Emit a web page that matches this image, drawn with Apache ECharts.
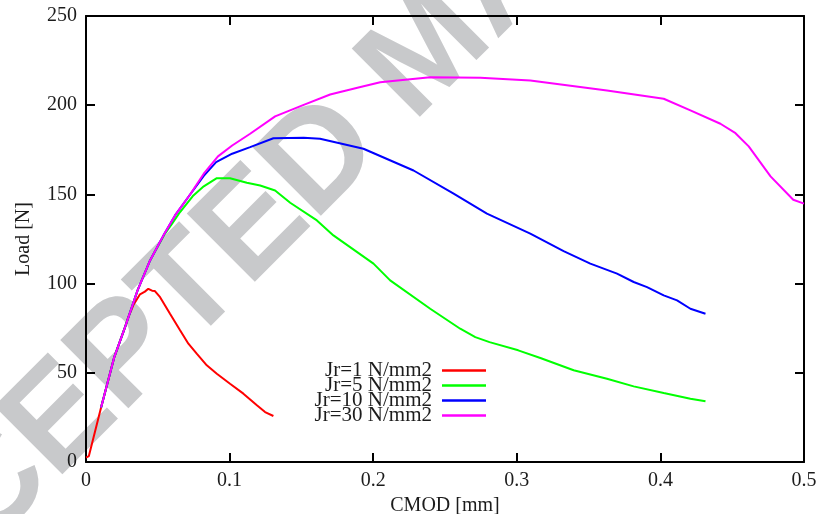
<!DOCTYPE html>
<html>
<head>
<meta charset="utf-8">
<script src="https://cdn.jsdelivr.net/npm/echarts@6/dist/echarts.min.js"></script>
<style>
  html, body { margin: 0; padding: 0; background: #fff; }
  #chart { width: 821px; height: 514px; }
</style>
</head>
<body>
<div id="chart"></div>
<script>
// Load vs. crack mouth opening displacement for four Jr values: [CMOD (mm), Load (N)]
const seriesNames = ['Jr=1 N/mm2', 'Jr=5 N/mm2', 'Jr=10 N/mm2', 'Jr=30 N/mm2'];
const seriesColors = ['#ff0000', '#00ff00', '#0000ff', '#ff00ff'];

const jr1 = [
  [0, 2.5], [0.002, 3.3], [0.0105, 30.5], [0.0197, 58.8], [0.0272, 75.6], [0.0295, 81.2],
  [0.033, 88.0], [0.0376, 94.0], [0.041, 95.5], [0.0434, 97.1], [0.046, 96.0], [0.048, 95.8],
  [0.0516, 92.4], [0.0585, 83.1], [0.0655, 73.8], [0.0713, 66.3], [0.0771, 60.7],
  [0.0841, 54.2], [0.0911, 49.5], [0.1003, 43.9], [0.1096, 38.3], [0.119, 31.8],
  [0.1247, 28.0], [0.1305, 25.8]
];
const jr5 = [
  [0.0105, 30.5], [0.0197, 58.8], [0.0272, 75.6], [0.0359, 96.2], [0.0446, 113.0],
  [0.0546, 127.5], [0.0595, 133.0], [0.0655, 140.1], [0.0748, 149.4], [0.082, 154.5],
  [0.0911, 159.1], [0.1003, 159.1], [0.112, 156.5], [0.1213, 155.0], [0.1317, 152.2],
  [0.1422, 145.3], [0.1608, 135.4], [0.1723, 127.0], [0.2002, 111.2], [0.2118, 101.8],
  [0.2397, 85.9], [0.2606, 74.7], [0.2711, 70.0], [0.281, 67.2], [0.301, 62.6],
  [0.3164, 58.3], [0.3396, 51.4], [0.3628, 46.7], [0.3814, 42.4], [0.4023, 38.7],
  [0.4209, 35.5], [0.4314, 34.0]
];
const jr10 = [
  [0.0105, 30.5], [0.0197, 58.8], [0.0272, 75.6], [0.0359, 96.2], [0.0446, 113.0],
  [0.0546, 128.0], [0.062, 138.2], [0.072, 149.4], [0.082, 160.4], [0.0906, 168.1],
  [0.1018, 172.8], [0.1143, 176.5], [0.1305, 181.5], [0.1516, 181.8], [0.163, 181.2],
  [0.1932, 175.6], [0.2281, 163.4], [0.256, 150.4], [0.2792, 139.2], [0.3094, 128.0],
  [0.3326, 118.2], [0.3512, 111.2], [0.3698, 105.6], [0.3814, 100.9], [0.3907, 98.0],
  [0.4023, 93.4], [0.4116, 90.6], [0.4209, 85.9], [0.4314, 83.1]
];
const jr30 = [
  [0.0105, 30.5], [0.0197, 58.8], [0.0272, 75.6], [0.0359, 96.2], [0.0446, 113.0],
  [0.0546, 128.0], [0.062, 138.2], [0.072, 149.4], [0.082, 161.6], [0.0919, 171.3],
  [0.1018, 177.4], [0.1143, 184.0], [0.1317, 193.7], [0.1516, 200.2], [0.17, 206.0],
  [0.189, 209.8], [0.2049, 212.9], [0.2397, 215.6], [0.2746, 215.4], [0.3094, 213.9],
  [0.3628, 208.3], [0.4023, 203.6], [0.4209, 197.1], [0.4418, 189.6], [0.4523, 184.3],
  [0.4615, 176.9], [0.4767, 160.1], [0.4925, 147.0], [0.5, 144.8]
];
const seriesData = [jr1, jr5, jr10, jr30];

const xTicks = { min: 0, max: 0.5, interval: 0.1 };
const yTicks = { min: 0, max: 250, interval: 50 };

const FONT = '"Liberation Serif", "Times New Roman", serif';
const INK = '#1c1c1c';

const chart = echarts.init(document.getElementById('chart'), null, { renderer: 'canvas' });

function frameAxis(base, showLabel) {
  return Object.assign({
    type: 'value',
    axisLine: { show: true, onZero: false, lineStyle: { color: '#000', width: 2 } },
    axisTick: { show: true, inside: true, length: 9, lineStyle: { color: '#000', width: 2 } },
    axisLabel: { show: showLabel, color: INK, fontFamily: FONT, fontSize: 20, margin: 9 },
    splitLine: { show: false }
  }, base);
}

// one legend block per series so the sample lines line up on the right
const legends = seriesNames.map((name, i) => ({
  data: [{ name: name, icon: 'rect' }],
  orient: 'vertical',
  align: 'right',
  right: 335,
  top: 360 + i * 15,
  padding: 0,
  itemWidth: 44,
  itemHeight: 2.5,
  selectedMode: false,
  textStyle: { color: INK, fontFamily: FONT, fontSize: 21, padding: [0, 5, 0, 0] }
}));

chart.setOption({
  backgroundColor: '#ffffff',
  animation: false,
  grid: { left: 86, right: 17, top: 16, bottom: 52, containLabel: false, outerBoundsMode: 'none' },
  xAxis: [
    frameAxis(Object.assign({
      position: 'bottom',
      name: 'CMOD [mm]',
      nameLocation: 'middle',
      nameGap: 22,
      nameTextStyle: { color: INK, fontFamily: FONT, fontSize: 20 }
    }, xTicks), true),
    frameAxis(Object.assign({ position: 'top' }, xTicks), false)
  ],
  yAxis: [
    frameAxis(Object.assign({
      position: 'left',
      name: 'Load [N]',
      nameLocation: 'middle',
      nameRotate: 90,
      nameGap: 52,
      nameTextStyle: { color: INK, fontFamily: FONT, fontSize: 20 }
    }, yTicks), true),
    frameAxis(Object.assign({ position: 'right' }, yTicks), false)
  ],
  legend: legends,
  graphic: [{
    type: 'text',
    z: -10,
    x: 430,
    y: 52,
    rotation: Math.PI / 4,
    silent: true,
    style: {
      text: 'ACCEPTED MANUSCRIPT',
      fill: '#c8c9cb',
      font: 'bold 140px "Liberation Sans", Arial, sans-serif',
      textAlign: 'center',
      textVerticalAlign: 'middle'
    }
  }],
  series: seriesData.map((d, i) => ({
    name: seriesNames[i],
    type: 'line',
    data: d,
    xAxisIndex: 0,
    yAxisIndex: 0,
    showSymbol: false,
    symbol: 'none',
    color: seriesColors[i],
    lineStyle: { color: seriesColors[i], width: 2 },
    z: 3 + i
  }))
});
</script>
</body>
</html>
